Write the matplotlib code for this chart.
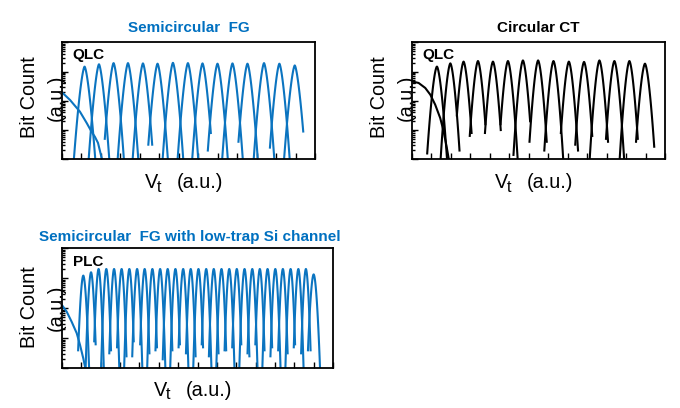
import numpy as np
import matplotlib.pyplot as plt
from matplotlib.ticker import MultipleLocator, LogLocator, NullFormatter

plt.rcParams['font.family'] = ['Liberation Sans', 'DejaVu Sans']

AZUL = '#0B74C0'
AZUL_TITULO = '#0070C0'

####################### DATOS #######################
# eje y: log10(bit count), eje x: Vt en unidades de tick

# Semicircular FG (QLC)
fg_borrado_x = [-0.05, 0.41, 0.92, 1.27, 1.52, 1.69, 1.85, 2.04, 2.10]
fg_borrado_y = [2.32, 2.03, 1.63, 1.24, 0.94, 0.77, 0.56, 0.04, -0.2]
fg_centros = [1.16, 1.90, 2.65, 3.39, 4.16, 4.91, 5.70, 6.47, 7.22, 7.99, 8.76, 9.53, 10.38, 11.17, 11.96]
fg_picos = [3.17, 3.25, 3.29, 3.29, 3.28, 3.27, 3.30, 3.29, 3.28, 3.27, 3.28, 3.27, 3.29, 3.27, 3.21]
fg_anchos = [0.55, 0.53, 0.53, 0.53, 0.53, 0.53, 0.53, 0.53, 0.53, 0.53, 0.53, 0.53, 0.53, 0.53, 0.55]
fg_fin_izq = [-1, -1, 0.7, -1, -1, 0.5, -1, -1, -1, 0.3, -1, 0.6, -1, 0.4, -1]
fg_fin_der = [-1, -1, -1, -1, 0.5, -1, -1, -1, 0.9, -1, -1, -1, -1, -1, 0.95]
fg_forma = 1.5

# Circular CT (QLC)
ct_borrado_x = [-0.05, 0.34, 0.68, 0.94, 1.19, 1.45, 1.62, 1.79, 1.88, 1.92]
ct_borrado_y = [2.67, 2.61, 2.44, 2.21, 1.87, 1.41, 0.97, 0.39, 0.04, -0.2]
ct_centros = [1.28, 1.97, 2.65, 3.39, 4.16, 4.93, 5.70, 6.48, 7.27, 8.06, 8.84, 9.63, 10.40, 11.17, 11.97]
ct_picos = [3.17, 3.28, 3.34, 3.36, 3.34, 3.36, 3.38, 3.38, 3.36, 3.34, 3.33, 3.38, 3.36, 3.36, 3.27]
ct_anchos = [0.52, 0.50, 0.50, 0.50, 0.50, 0.50, 0.50, 0.50, 0.50, 0.50, 0.50, 0.50, 0.50, 0.50, 0.52]
ct_fin_izq = [0.2, -1, 1.5, 0.8, 0.9, 1.2, 0.15, 0.6, 0.3, 0.9, 0.5, -1, 0.7, -1, 0.6]
ct_fin_der = [-1, 0.3, 0.9, 1.2, 1.0, -1, 1.3, 0.6, -1, 0.3, 0.8, 0.6, -1, 0.7, 0.43]
ct_forma = 1.6

# Semicircular FG con canal Si de baja trampa (PLC)
plc_borrado_x = [-0.05, 0.24, 0.50, 0.76, 0.93, 1.10, 1.19, 1.24]
plc_borrado_y = [2.15, 1.89, 1.55, 1.17, 0.78, 0.33, 0.05, -0.2]
plc_centros = [1.10, 1.50, 1.89, 2.29, 2.69, 3.08, 3.48, 3.88, 4.27, 4.67, 5.07,
               5.46, 5.86, 6.26, 6.65, 7.05, 7.45, 7.84, 8.24, 8.64, 9.03, 9.43,
               9.83, 10.22, 10.62, 11.02, 11.41, 11.81, 12.21, 12.60, 13.00]
plc_picos = [3.09, 3.20, 3.31, 3.31, 3.31, 3.31, 3.31, 3.31, 3.31, 3.31, 3.31,
             3.31, 3.31, 3.31, 3.31, 3.31, 3.31, 3.31, 3.31, 3.31, 3.31, 3.31,
             3.31, 3.31, 3.31, 3.31, 3.31, 3.31, 3.31, 3.31, 3.13]
plc_anchos = [0.30, 0.28, 0.27, 0.27, 0.27, 0.27, 0.27, 0.27, 0.27, 0.27, 0.27,
              0.27, 0.27, 0.27, 0.27, 0.27, 0.27, 0.27, 0.27, 0.27, 0.27, 0.27,
              0.27, 0.27, 0.27, 0.27, 0.27, 0.27, 0.27, 0.27, 0.33]
plc_fin_izq = [0.6, -1, 0.9, -1, 0.5, 0.7, -1, 0.4, 0.8, -1, 0.6, 0.3, -1, 0.7,
               0.5, -1, 0.8, 0.4, -1, 0.6, 0.7, -1, 0.5, 0.8, -1, 0.4, 0.6, -1,
               0.7, 0.5, 0.6]
plc_fin_der = [-1, 0.8, -1, 0.6, -1, 0.4, 0.9, -1, 0.5, 0.7, -1, 0.6, 0.8, -1,
               0.4, 0.7, -1, 0.5, 0.6, -1, 0.8, 0.4, -1, 0.6, 0.7, -1, 0.5, 0.8,
               -1, 0.6, -1]
plc_forma = 1.8


####################### AUXILIARES #######################

W, H = 680, 408


def px(x, y):
    return x / W, 1 - y / H


def crear_ejes(fig, izq, arriba, ancho, alto, xmax):
    ax = fig.add_axes([izq / W, 1 - (arriba + alto) / H, ancho / W, alto / H])
    ax.set_yscale('log')
    ax.set_ylim(1, 1e4)
    ax.set_xlim(0, xmax)
    ax.xaxis.set_major_locator(MultipleLocator(1))
    ax.yaxis.set_major_locator(LogLocator(base=10, numticks=10))
    ax.yaxis.set_minor_locator(LogLocator(base=10, subs=np.arange(2, 10), numticks=10))
    ax.yaxis.set_minor_formatter(NullFormatter())
    ax.tick_params(which='both', direction='in', labelleft=False, labelbottom=False,
                   top=False, right=False, width=1.0)
    ax.tick_params(which='major', length=4)
    ax.tick_params(which='minor', length=2.5)
    ax.tick_params(axis='x', which='minor', bottom=False)
    for s in ax.spines.values():
        s.set_linewidth(1.3)
    return ax


def dibujar_picos(ax, centros, picos, anchos, fin_izq, fin_der, forma,
                  borrado_x, borrado_y, color):
    ax.plot(borrado_x, 10 ** np.array(borrado_y), color=color, lw=1.5)
    for c, h, w, fi, fd in zip(centros, picos, anchos, fin_izq, fin_der):
        xi = c - w * (1 - max(fi, -0.4) / h) ** (1 / forma)
        xd = c + w * (1 - max(fd, -0.4) / h) ** (1 / forma)
        x = np.linspace(xi, xd, 100)
        y = 10 ** (h * (1 - np.abs((x - c) / w) ** forma))
        ax.plot(x, y, color=color, lw=1.5)


def etiquetas(fig, izq_eje, centro_x, centro_y, base_x):
    fig.text(*px(izq_eje - 32.5, centro_y), 'Bit Count', rotation=90,
             ha='center', va='center', fontsize=14.3)
    fig.text(*px(izq_eje - 6, centro_y), '(a.u.)', rotation=90,
             ha='center', va='center', fontsize=14.3)
    v = centro_x - 44
    fig.text(*px(v, base_x), 'V', ha='left', va='baseline', fontsize=14.3)
    fig.text(*px(v + 12.7, base_x + 3.3), 't', ha='left', va='baseline', fontsize=11.5)
    fig.text(*px(v + 32, base_x), '(a.u.)', ha='left', va='baseline', fontsize=14.3)


####################### FIGURA #######################

fig = plt.figure(figsize=(6.8, 4.08), dpi=100)

ax1 = crear_ejes(fig, 62, 42.3, 253, 117, 13)
dibujar_picos(ax1, fg_centros, fg_picos, fg_anchos, fg_fin_izq, fg_fin_der, fg_forma,
              fg_borrado_x, fg_borrado_y, AZUL)
fig.text(*px(72.5, 59.5), 'QLC', fontsize=11, fontweight='bold', va='baseline')
fig.text(*px(188.5, 27.5), 'Semicircular  FG', fontsize=11, fontweight='bold',
         color=AZUL_TITULO, ha='center', va='center')
etiquetas(fig, 62, 188.5, 97.5, 188.3)

ax2 = crear_ejes(fig, 412, 42.3, 253, 117, 13)
dibujar_picos(ax2, ct_centros, ct_picos, ct_anchos, ct_fin_izq, ct_fin_der, ct_forma,
              ct_borrado_x, ct_borrado_y, 'black')
fig.text(*px(422.5, 59.5), 'QLC', fontsize=11, fontweight='bold', va='baseline')
fig.text(*px(538.5, 27.5), 'Circular CT', fontsize=11, fontweight='bold',
         color='black', ha='center', va='center')
etiquetas(fig, 412, 538.5, 97.5, 188.3)

ax3 = crear_ejes(fig, 62, 248.3, 271, 120, 14)
dibujar_picos(ax3, plc_centros, plc_picos, plc_anchos, plc_fin_izq, plc_fin_der, plc_forma,
              plc_borrado_x, plc_borrado_y, AZUL)
fig.text(*px(72.5, 266), 'PLC', fontsize=11, fontweight='bold', va='baseline')
fig.text(*px(190, 236.5), 'Semicircular  FG with low-trap Si channel', fontsize=11,
         fontweight='bold', color=AZUL_TITULO, ha='center', va='center')
etiquetas(fig, 62, 197.5, 307.5, 396)

fig.savefig('out.png', dpi=100)
